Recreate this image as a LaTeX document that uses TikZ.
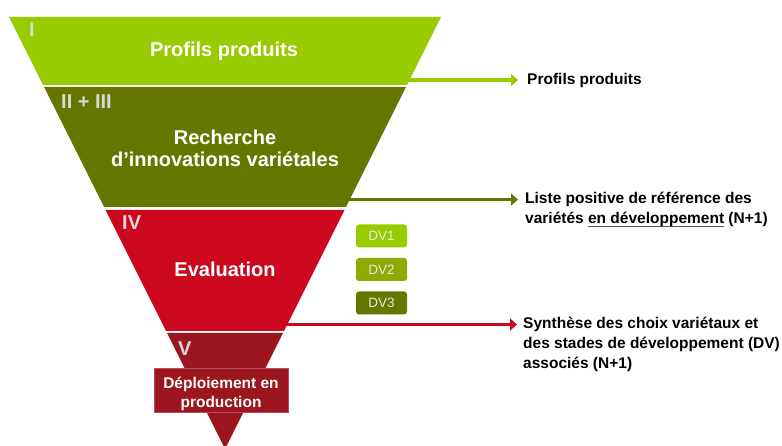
\documentclass[tikz,border=0pt]{standalone}
\usepackage{fontspec}
\setmainfont{Liberation Sans}
\usetikzlibrary{arrows.meta}
\definecolor{lgreen}{RGB}{153,204,0}
\definecolor{oliveband}{RGB}{102,119,0}
\definecolor{dvtwo}{RGB}{143,170,0}
\definecolor{redband}{RGB}{204,8,30}
\definecolor{darkredband}{RGB}{155,22,30}
\definecolor{boxedge}{RGB}{185,75,85}
\definecolor{labelgray}{RGB}{217,217,217}
\definecolor{dvtext}{RGB}{232,232,232}
\definecolor{ulgray}{RGB}{90,90,90}
\newcommand\myul[1]{\setbox0\hbox{#1}\rlap{\textcolor{ulgray}{\rule[-3.2pt]{\wd0}{0.6pt}}}\box0\relax}
\begin{document}
\begin{tikzpicture}[x=1pt,y=-1pt,
  bandtext/.style={text=white,font=\fontsize{20}{20}\selectfont\bfseries,inner sep=0pt},
  lbl/.style={text=labelgray,font=\fontsize{20}{20}\selectfont\bfseries,inner sep=0pt,anchor=west},
  deploybox/.style={fill=darkredband,draw=boxedge,line width=0.7pt,minimum width=134pt,minimum height=44pt,inner sep=0pt},
  boxtext/.style={text=white,font=\fontsize{15.5}{19}\selectfont\bfseries,inner sep=0pt,align=center,anchor=north},
  dvbox/.style={rounded corners=3pt,minimum width=51pt,minimum height=23pt,inner sep=0pt,text=dvtext,font=\fontsize{13.5}{15}\selectfont},
  outtext/.style={text=black,font=\fontsize{15.5}{20}\selectfont\bfseries,inner sep=0pt,align=left,anchor=north west},
  flow/.style={line width=3.3pt,-{Triangle[length=7pt,width=12pt]}}
]
\useasboundingbox (0,0) rectangle (782,446);
% funnel bands
\fill[lgreen] (9,17) -- (441,17) -- (407,85) -- (43,85) -- cycle;
\fill[oliveband] (44,87) -- (406,87) -- (346,207) -- (104,207) -- cycle;
\fill[redband] (105.5,210) -- (344.5,210) -- (284,331) -- (166,331) -- cycle;
\fill[darkredband] (167,333) -- (283,333) -- (225,449) -- cycle;
% band labels
\node[lbl] (l1) at (29,30) {I};
\node[lbl] (l2) at (61,102) {II + III};
\node[lbl] (l3) at (122,223) {IV};
\node[lbl] (l4) at (178,349) {V};
% band texts
\node[bandtext,anchor=base] (b1) at (224,57) {Profils produits};
\node[bandtext,anchor=north,align=center] (b2) at (225,130.2) {\strut Recherche\\\strut d’innovations variétales};
\node[bandtext,anchor=base] (b3) at (225,277) {Evaluation};
\node[deploybox] (dep) at (221,390) {};
\node[boxtext] (deptext) at (221,375.25) {\strut Déploiement en\\\strut production};
% DV boxes
\node[dvbox,fill=lgreen] (dv1) at (381.5,236) {DV1};
\node[dvbox,fill=dvtwo] (dv2) at (381.5,269.5) {DV2};
\node[dvbox,fill=oliveband] (dv3) at (381.5,303) {DV3};
% output texts
\node[outtext] (t1) at (527,70.55) {\strut Profils produits};
\node[outtext] (t2) at (525,189.55) {\strut Liste positive de référence des\\\strut variétés \myul{en développement} (N+1)};
\node[outtext] (t3) at (523,314.55) {\strut Synthèse des choix variétaux et\\\strut des stades de développement (DV)\\\strut associés (N+1)};
% arrows
\coordinate (a1) at (404,80);
\coordinate (a2) at (347,199.5);
\coordinate (a3) at (285,324.5);
\draw[flow,lgreen,shorten >=9pt] (a1) -- (a1 -| t1.west);
\draw[flow,oliveband,shorten >=7pt] (a2) -- (a2 -| t2.west);
\draw[flow,redband,shorten >=6pt] (a3) -- (a3 -| t3.west);
\end{tikzpicture}
\end{document}
